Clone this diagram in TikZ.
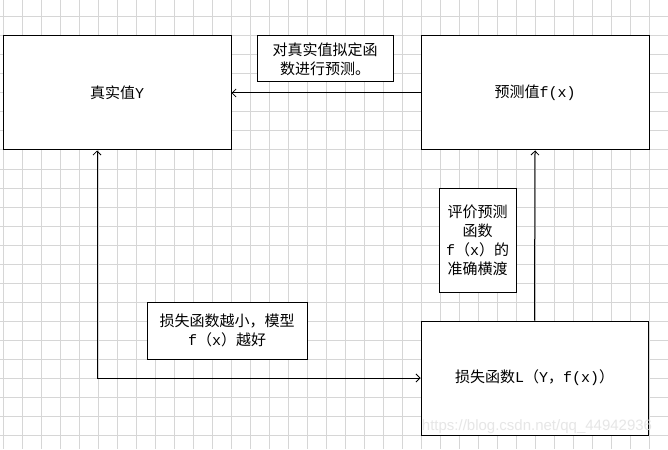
\documentclass[tikz,border=0pt]{standalone}
\usepackage{fontspec}
\setmainfont{Noto Sans CJK SC}
\newfontfamily\wmfont{Liberation Sans}
\newfontfamily\latfont{Liberation Mono}
\newcommand{\lat}[1]{{\latfont #1}}
\usetikzlibrary{arrows.meta}
\begin{document}
\begin{tikzpicture}[x=1pt,y=-1pt,
  box/.style={draw=black,line width=1pt,fill=white,inner sep=0pt,align=center,
    font=\fontsize{15}{19}\selectfont},
  conn/.style={draw=black,line width=1pt,
    arrows={-Straight Barb[length=4pt,width=8pt,line width=0.8pt]}},
  gridline/.style={draw=black!16,line width=1pt}]
\useasboundingbox (0,0) rectangle (668,449);
\fill[white] (0,0) rectangle (668,449);
\foreach \i in {0,...,35} { \draw[gridline] ({3+19*\i},0) -- ({3+19*\i},449); }
\foreach \j in {1,...,24} { \draw[gridline] (0,{-2+19*\j}) -- (668,{-2+19*\j}); }

\node[box,minimum width=228pt,minimum height=114pt] (real) at (117,93) {真实值\lat{Y}};
\node[box,minimum width=228pt,minimum height=114pt] (pred) at (535,93) {预测值\lat{f(x)}};
\node[box,minimum width=136pt,minimum height=46pt] (lab1) at (325,59) {对真实值拟定函\\数进行预测。};
\node[box,minimum width=77pt,minimum height=104pt] (lab2) at (477.5,240) {评价预测\\函数\\\lat{f}（\lat{x}）的\\准确横渡};
\node[box,minimum width=227pt,minimum height=114pt] (loss) at (534.5,378) {损失函数\lat{L}（\lat{Y}，\lat{f(x)}）};
\node[box,minimum width=160pt,minimum height=57pt] (lab3) at (227,330.5) {损失函数越小，模型\\\lat{f}（\lat{x}）越好};

\draw[conn] (pred.west) -- (real.east);
\draw[conn] (loss.north) -- (pred.south);
\draw[conn,arrows={Straight Barb[length=4pt,width=8pt,line width=0.8pt]-Straight Barb[length=4pt,width=8pt,line width=0.8pt]}] ([xshift=-20pt]real.south) |- (loss.west);

\node[anchor=center,inner sep=0pt,text=black!12,opacity=0.8,font=\wmfont\fontsize{15}{15}\selectfont] (wm) at (537,427) {https://blog.csdn.net/qq\_44942936};
\end{tikzpicture}
\end{document}
